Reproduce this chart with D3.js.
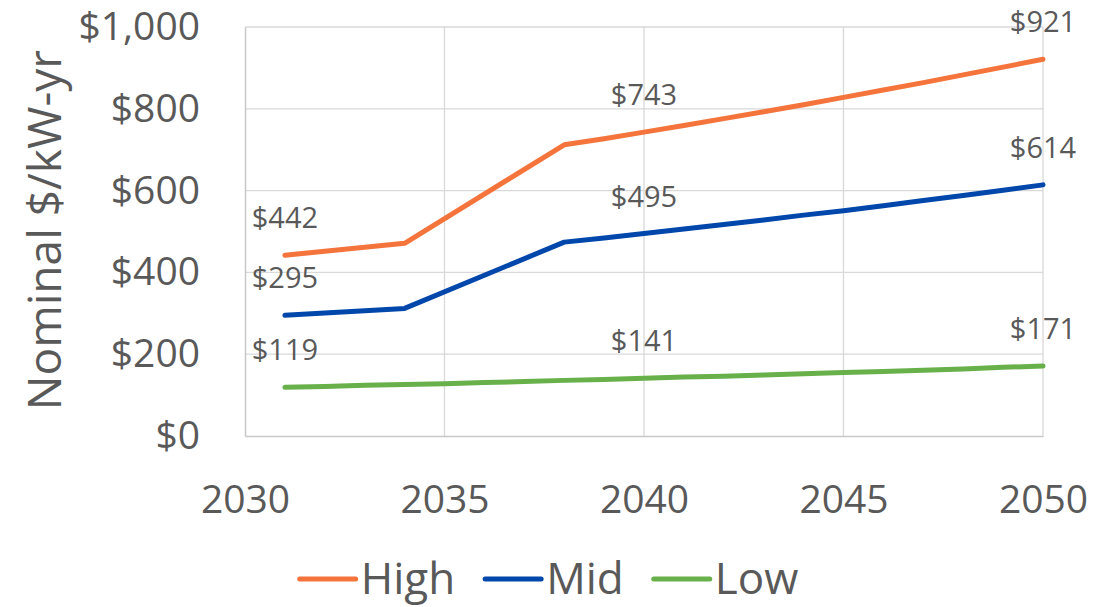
<!DOCTYPE html>
<html>
<head>
<meta charset="utf-8">
<script src="https://cdn.jsdelivr.net/npm/d3@7"></script>
<style>
  html, body { margin: 0; padding: 0; background: #fff; }
  svg { display: block; font-family: "Open Sans", "Noto Sans", sans-serif; }
</style>
</head>
<body>
<svg id="chart" width="1117" height="607"></svg>
<script>
// --- DATA ---
const stepYears = [2031, 2034, 2038, 2039, 2040, 2041, 2042, 2043, 2044, 2045, 2046, 2047, 2048, 2049, 2050];
const highValues = [442, 471, 712, 727, 743, 759, 776, 793, 810, 828, 846, 864, 883, 902, 921];
const midValues  = [295, 312, 474, 484, 495, 506, 517, 528, 540, 551, 563, 576, 588, 601, 614];

const lowYears  = [2031, 2032, 2033, 2034, 2035, 2036, 2037, 2038, 2039, 2040, 2041, 2042, 2043, 2044, 2045, 2046, 2047, 2048, 2049, 2050];
const lowValues = [119, 121, 124, 126, 128, 131, 133, 136, 138, 141, 144, 146, 149, 152, 155, 158, 161, 164, 168, 171];

const labelYears = [2031, 2040, 2050];
const xTicks = [2030, 2035, 2040, 2045, 2050];
const yTicks = [0, 200, 400, 600, 800, 1000];

const seriesNames = ["High", "Mid", "Low"];
const seriesColors = ["#F4743B", "#0047AB", "#67B04A"];

const series = [
    { name: seriesNames[0], color: seriesColors[0], points: stepYears.map((y, i) => ({ year: y, value: highValues[i] })) },
    { name: seriesNames[1], color: seriesColors[1], points: stepYears.map((y, i) => ({ year: y, value: midValues[i] })) },
    { name: seriesNames[2], color: seriesColors[2], points: lowYears.map((y, i) => ({ year: y, value: lowValues[i] })) }
];

// --- LAYOUT ---
const svg = d3.select("#chart");
const plot = { left: 245, right: 1043, top: 27, bottom: 436 };
const textColor = "#595959";

const xScale = d3.scaleLinear().domain([2030, 2050]).range([plot.left, plot.right]);
const yScale = d3.scaleLinear().domain([0, 1000]).range([plot.bottom, plot.top]);

// Gridlines
svg.append("g")
    .selectAll("line")
    .data(yTicks.filter(d => d > 0))
    .join("line")
    .attr("x1", plot.left).attr("x2", plot.right)
    .attr("y1", d => yScale(d)).attr("y2", d => yScale(d))
    .attr("stroke", "#D9D9D9").attr("stroke-width", 1.3);

svg.append("g")
    .selectAll("line")
    .data(xTicks.filter(d => d > 2030))
    .join("line")
    .attr("x1", d => xScale(d)).attr("x2", d => xScale(d))
    .attr("y1", plot.top).attr("y2", plot.bottom)
    .attr("stroke", "#D9D9D9").attr("stroke-width", 1.3);

// Axes (lines drawn by d3 axis, tick text styled afterwards)
const yAxis = svg.append("g")
    .attr("transform", `translate(${plot.left},0)`)
    .call(d3.axisLeft(yScale).tickValues(yTicks).tickSize(0).tickPadding(45)
        .tickFormat(d => "$" + d3.format(",")(d)));
yAxis.select(".domain").attr("stroke", "#C8C8C8").attr("stroke-width", 1.5);
yAxis.selectAll("text").attr("fill", textColor).attr("font-size", 39).attr("font-family", "Open Sans");

const xAxis = svg.append("g")
    .attr("transform", `translate(0,${plot.bottom})`)
    .call(d3.axisBottom(xScale).tickValues(xTicks).tickSize(0).tickPadding(49)
        .tickFormat(d3.format("d")));
xAxis.select(".domain").attr("stroke", "#C8C8C8").attr("stroke-width", 1.5);
xAxis.selectAll("text").attr("fill", textColor).attr("font-size", 39).attr("font-family", "Open Sans");

// Y axis title
svg.append("text")
    .attr("transform", `translate(61,230) rotate(-90)`)
    .attr("text-anchor", "middle")
    .attr("fill", textColor)
    .attr("font-size", 46)
    .text("Nominal $/kW-yr");

// Lines
const line = d3.line().x(d => xScale(d.year)).y(d => yScale(d.value));

svg.append("g")
    .selectAll("path")
    .data(series)
    .join("path")
    .attr("d", d => line(d.points))
    .attr("fill", "none")
    .attr("stroke", d => d.color)
    .attr("stroke-width", 5)
    .attr("stroke-linecap", "round")
    .attr("stroke-linejoin", "round");

// Data labels
const labels = [];
series.forEach(s => s.points.forEach(p => { if (labelYears.includes(p.year)) labels.push(p); }));

svg.append("g")
    .selectAll("text")
    .data(labels)
    .join("text")
    .attr("x", d => xScale(d.year))
    .attr("y", d => yScale(d.value) - 27)
    .attr("text-anchor", "middle")
    .attr("fill", textColor)
    .attr("font-size", 29)
    .text(d => "$" + d.value);

// Legend
const legend = svg.append("g");
let cursor = 0;
series.forEach(s => {
    const g = legend.append("g").attr("transform", `translate(${cursor},0)`);
    g.append("line")
        .attr("x1", 0).attr("x2", 56)
        .attr("y1", 0).attr("y2", 0)
        .attr("stroke", s.color).attr("stroke-width", 5)
        .attr("stroke-linecap", "round");
    const t = g.append("text")
        .attr("x", 61).attr("y", 15)
        .attr("fill", textColor)
        .attr("font-size", 44)
        .text(s.name);
    cursor += 61 + t.node().getComputedTextLength() + 30;
});
const legendWidth = cursor - 30;
legend.attr("transform", `translate(${549 - legendWidth / 2},579)`);
</script>
</body>
</html>
